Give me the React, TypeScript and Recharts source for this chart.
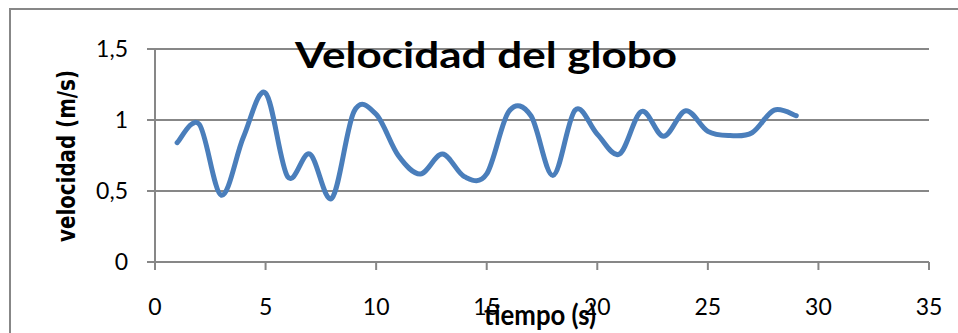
import React from "react";
import {
	LineChart,
	Line,
	XAxis,
	YAxis,
	CartesianGrid,
	Customized,
} from "recharts";

// tiempo (s)
const tiempo = [
	1, 2, 3, 4, 5, 6, 7, 8, 9, 10, 11, 12, 13, 14, 15, 16, 17, 18, 19, 20, 21,
	22, 23, 24, 25, 26, 27, 28, 29,
];
// velocidad (m/s)
const velocidad = [
	0.84, 0.97, 0.47, 0.88, 1.19, 0.6, 0.76, 0.45, 1.06, 1.04, 0.75, 0.62, 0.76,
	0.6, 0.62, 1.06, 1.03, 0.61, 1.07, 0.9, 0.76, 1.06, 0.885, 1.065, 0.92, 0.89,
	0.91, 1.07, 1.03,
];
const xTicks = [0, 5, 10, 15, 20, 25, 30, 35];
const yTicks = [0, 0.5, 1, 1.5];

const data = tiempo.map((t, i) => ({ t, v: velocidad[i] }));

const GRID = "#878787";
const LINE = "#4A7EBB";

// Excel-style smoothed line (Catmull-Rom through the points)
function excelSmooth(context: any) {
	let pts: number[][] = [];
	return {
		areaStart() {},
		areaEnd() {},
		lineStart() {
			pts = [];
		},
		point(x: number, y: number) {
			pts.push([+x, +y]);
		},
		lineEnd() {
			const n = pts.length;
			if (!n) return;
			context.moveTo(pts[0][0], pts[0][1]);
			for (let i = 0; i < n - 1; i++) {
				const p0 = pts[Math.max(i - 1, 0)];
				const p1 = pts[i];
				const p2 = pts[i + 1];
				const p3 = pts[Math.min(i + 2, n - 1)];
				context.bezierCurveTo(
					p1[0] + (p2[0] - p0[0]) / 6,
					p1[1] + (p2[1] - p0[1]) / 6,
					p2[0] - (p3[0] - p1[0]) / 6,
					p2[1] - (p3[1] - p1[1]) / 6,
					p2[0],
					p2[1]
				);
			}
		},
	};
}

const XTick = ({ x, y, payload }: any) => (
	<text
		x={x}
		y={y + 43}
		textAnchor="middle"
		fontFamily="Lato"
		fontSize={23}
		fill="#000"
	>
		{payload.value}
	</text>
);

const Labels = () => (
	<g>
		<text
			x={295}
			y={68}
			fontFamily="Lato"
			fontWeight="bold"
			fontSize={36}
			textLength={382}
			lengthAdjust="spacingAndGlyphs"
			fill="#000"
		>
			Velocidad del globo
		</text>
		<text
			x={484}
			y={325}
			fontFamily="Lato"
			fontWeight="bold"
			fontSize={29}
			textLength={112}
			lengthAdjust="spacingAndGlyphs"
			fill="#000"
		>
			tiempo (s)
		</text>
		<text
			transform="translate(75,242) rotate(-90)"
			x={0}
			y={0}
			fontFamily="DejaVu Sans"
			fontWeight="bold"
			fontSize={24}
			textLength={172}
			lengthAdjust="spacingAndGlyphs"
			fill="#000"
		>
			velocidad (m/s)
		</text>
	</g>
);

export default function App() {
	return (
		<div
			style={{
				position: "absolute",
				left: 0,
				top: 0,
				width: 958,
				height: 333,
				overflow: "hidden",
				background: "#fff",
			}}
		>
			<div
				style={{
					position: "absolute",
					left: 9,
					top: 8,
					width: 1000,
					height: 400,
					border: `2px solid ${GRID}`,
				}}
			/>
			<div style={{ position: "absolute", left: 0, top: 0 }}>
				<LineChart
					width={958}
					height={333}
					data={data}
					margin={{ top: 49, right: 29, left: 0, bottom: 0 }}
				>
					<CartesianGrid vertical={false} stroke={GRID} strokeWidth={2} />
					<XAxis
						dataKey="t"
						type="number"
						domain={[0, 35]}
						ticks={xTicks}
						height={71}
						stroke={GRID}
						strokeWidth={2}
						tickSize={8}
						tick={<XTick />}
						interval={0}
					/>
					<YAxis
						type="number"
						domain={[0, 1.5]}
						ticks={yTicks}
						width={155}
						stroke={GRID}
						strokeWidth={2}
						tickSize={8}
						tickMargin={19}
						interval={0}
						tickFormatter={(v: number) => String(v).replace(".", ",")}
						tick={{ fill: "#000", fontFamily: "Lato", fontSize: 23 }}
					/>
					<Line
						dataKey="v"
						type={excelSmooth as any}
						stroke={LINE}
						strokeWidth={5}
						strokeLinecap="round"
						dot={false}
						isAnimationActive={false}
					/>
					<Customized component={Labels} />
				</LineChart>
			</div>
		</div>
	);
}
